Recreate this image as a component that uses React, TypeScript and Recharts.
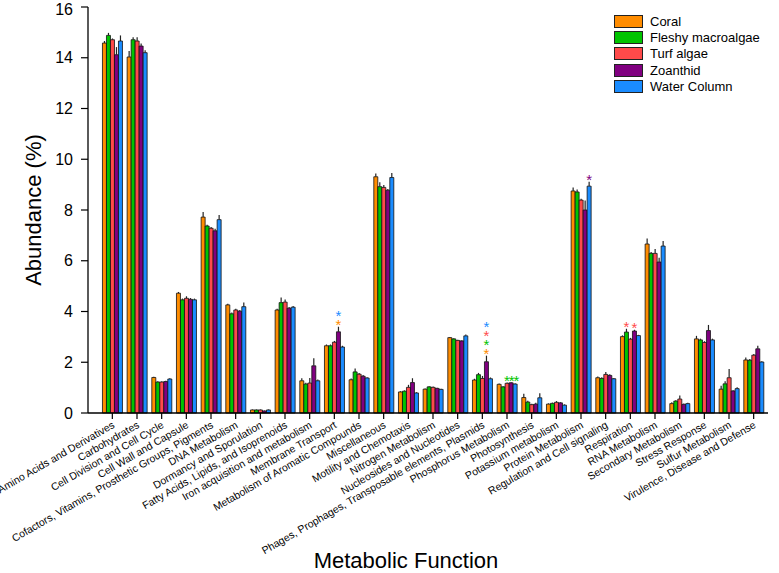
import React from 'react';
import { BarChart, Bar, XAxis, YAxis, ErrorBar, Legend, LabelList } from 'recharts';

const CATEGORIES = [
  'Amino Acids and Derivatives',
  'Carbohydrates',
  'Cell Division and Cell Cycle',
  'Cell Wall and Capsule',
  'Cofactors, Vitamins, Prosthetic Groups, Pigments',
  'DNA Metabolism',
  'Dormancy and Sporulation',
  'Fatty Acids, Lipids, and Isoprenoids',
  'Iron acquisition and metabolism',
  'Membrane Transport',
  'Metabolism of Aromatic Compounds',
  'Miscellaneous',
  'Motility and Chemotaxis',
  'Nitrogen Metabolism',
  'Nucleosides and Nucleotides',
  'Phages, Prophages, Transposable elements, Plasmids',
  'Phosphorus Metabolism',
  'Photosynthesis',
  'Potassium metabolism',
  'Protein Metabolism',
  'Regulation and Cell signaling',
  'Respiration',
  'RNA Metabolism',
  'Secondary Metabolism',
  'Stress Response',
  'Sulfur Metabolism',
  'Virulence, Disease and Defense',
];

const SERIES = ['Coral', 'Fleshy macroalgae', 'Turf algae', 'Zoanthid', 'Water Column'];
const COLORS = ['#FF8C00', '#00C400', '#FF4A4A', '#800080', '#1A8CFF'];

// mean abundance (%)
const coral = [14.58, 14.03, 1.4, 4.72, 7.72, 4.26, 0.12, 4.06, 1.27, 2.65, 1.31, 9.31, 0.83, 0.94, 2.97, 1.3, 1.13, 0.61, 0.35, 8.75, 1.39, 3.01, 6.66, 0.37, 2.92, 0.94, 2.09];
const fleshy = [14.88, 14.71, 1.22, 4.46, 7.37, 3.91, 0.12, 4.35, 1.14, 2.65, 1.62, 8.92, 0.86, 1.03, 2.92, 1.51, 1.03, 0.43, 0.38, 8.71, 1.36, 3.19, 6.29, 0.47, 2.88, 1.15, 2.08];
const turf = [14.71, 14.66, 1.22, 4.52, 7.28, 4.06, 0.12, 4.37, 1.18, 2.79, 1.53, 8.89, 1.01, 1.01, 2.86, 1.36, 1.17, 0.33, 0.42, 8.39, 1.52, 2.91, 6.29, 0.55, 2.78, 1.39, 2.28];
const zoanthid = [14.12, 14.46, 1.24, 4.48, 7.18, 4.01, 0.08, 4.13, 1.86, 3.2, 1.45, 8.78, 1.2, 0.97, 2.84, 2.02, 1.19, 0.35, 0.4, 8.0, 1.48, 3.23, 5.95, 0.34, 3.25, 0.87, 2.53];
const water = [14.66, 14.2, 1.34, 4.46, 7.62, 4.19, 0.12, 4.17, 1.27, 2.6, 1.38, 9.28, 0.79, 0.93, 3.04, 1.35, 1.14, 0.6, 0.31, 8.94, 1.35, 3.05, 6.58, 0.37, 2.88, 0.96, 2.01];

// upper error (SE)
const coralErr = [0.08, 0.24, 0.03, 0.05, 0.2, 0.05, 0.02, 0.05, 0.1, 0.05, 0.05, 0.13, 0.03, 0.03, 0.03, 0.05, 0.03, 0.15, 0.03, 0.14, 0.05, 0.05, 0.22, 0.05, 0.12, 0.13, 0.1];
const fleshyErr = [0.1, 0.1, 0.03, 0.05, 0.05, 0.05, 0.02, 0.2, 0.05, 0.05, 0.13, 0.17, 0.03, 0.03, 0.03, 0.07, 0.03, 0.05, 0.03, 0.1, 0.05, 0.13, 0.05, 0.03, 0.05, 0.1, 0.05];
const turfErr = [0.05, 0.15, 0.03, 0.08, 0.05, 0.05, 0.02, 0.1, 0.2, 0.05, 0.05, 0.1, 0.1, 0.03, 0.03, 0.1, 0.03, 0.03, 0.05, 0.05, 0.1, 0.05, 0.17, 0.14, 0.05, 0.34, 0.05];
const zoanthidErr = [0.3, 0.1, 0.03, 0.05, 0.08, 0.05, 0.02, 0.05, 0.3, 0.2, 0.05, 0.05, 0.17, 0.03, 0.03, 0.24, 0.03, 0.05, 0.03, 0.37, 0.05, 0.05, 0.17, 0.03, 0.22, 0.03, 0.12];
const waterErr = [0.22, 0.1, 0.03, 0.05, 0.18, 0.16, 0.02, 0.05, 0.05, 0.05, 0.03, 0.18, 0.03, 0.03, 0.05, 0.05, 0.03, 0.18, 0.03, 0.17, 0.03, 0.03, 0.2, 0.03, 0.05, 0.05, 0.03];

const Y_TICKS = [0, 2, 4, 6, 8, 10, 12, 14, 16];

// significance marks: which bar they sit over, and the colour of each star from the bottom up
const STARS = [
  { category: 'Membrane Transport', over: 'Zoanthid', text: '*', colors: ['Coral', 'Water Column'] },
  { category: 'Phages, Prophages, Transposable elements, Plasmids', over: 'Zoanthid', text: '*', colors: ['Coral', 'Fleshy macroalgae', 'Turf algae', 'Water Column'] },
  { category: 'Phosphorus Metabolism', over: 'Zoanthid', text: '***', colors: ['Fleshy macroalgae'] },
  { category: 'Protein Metabolism', over: 'Water Column', text: '*', colors: ['Zoanthid'] },
  { category: 'Respiration', over: 'Fleshy macroalgae', text: '*', colors: ['Turf algae'] },
  { category: 'Respiration', over: 'Zoanthid', text: '*', colors: ['Turf algae'] },
];

const values = [coral, fleshy, turf, zoanthid, water];
const errors = [coralErr, fleshyErr, turfErr, zoanthidErr, waterErr];

const data = CATEGORIES.map((name, i) => {
  const row: Record<string, any> = { name };
  values.forEach((v, k) => {
    row[`v${k}`] = v[i];
    row[`e${k}`] = [0, errors[k][i]];
  });
  return row;
});

const FONT = '"Liberation Sans", Arial, sans-serif';

const AngledTick = (props: any) => {
  const { x, y, payload } = props;
  return (
    <g transform={`translate(${x + 3},${y + 6})`}>
      <text
        x={0}
        y={0}
        transform="rotate(-30)"
        textAnchor="end"
        fontSize={10.5}
        fontFamily={FONT}
        fill="#000"
      >
        {payload.value}
      </text>
    </g>
  );
};

const renderStars = (props: any, seriesIndex: number) => {
  const idx = props.index;
  const cat = CATEGORIES[idx];
  const marks = STARS.filter((m) => m.category === cat && m.over === SERIES[seriesIndex]);
  if (!marks.length) return null;
  const vb = props.viewBox && props.viewBox.width != null ? props.viewBox : props;
  const { x, y, width, height } = vb;
  const value = values[seriesIndex][idx];
  const pxPerUnit = height / value;
  const errTop = y - errors[seriesIndex][idx] * pxPerUnit;
  return (
    <g>
      {marks.map((m, mi) =>
        m.colors.map((c, j) => (
          <text
            key={`${mi}-${j}`}
            x={x + width / 2}
            y={errTop - 5 - j * 9 + 8.6}
            textAnchor="middle"
            fontSize={15}
            fontFamily={FONT}
            letterSpacing={m.text.length > 1 ? -1 : 0}
            fill={COLORS[SERIES.indexOf(c)]}
          >
            {m.text}
          </text>
        ))
      )}
    </g>
  );
};

// legend drawn in series order
const LegendBox = () => (
  <div style={{ fontFamily: FONT }}>
    {SERIES.map((s, k) => (
      <div key={s} style={{ display: 'flex', alignItems: 'center', height: 16.3 }}>
        <span
          style={{
            display: 'inline-block',
            width: 29,
            height: 13,
            background: COLORS[k],
            border: '1.3px solid #222',
            boxSizing: 'border-box',
          }}
        />
        <span style={{ marginLeft: 7, fontSize: 13, color: '#000' }}>{s}</span>
      </div>
    ))}
  </div>
);

export default function App() {
  return (
    <div style={{ position: 'absolute', left: 0, top: 0, background: '#fff' }}>
      <BarChart
        width={779}
        height={573}
        data={data}
        margin={{ top: 7, right: 11, bottom: 0, left: 0 }}
        barCategoryGap="10%"
        barGap={0}
      >
        <XAxis
          dataKey="name"
          interval={0}
          height={160}
          padding={{ left: 12, right: 2 }}
          tick={<AngledTick />}
          tickSize={6}
          tickMargin={2}
          axisLine={{ stroke: '#000', strokeWidth: 1.3 }}
          tickLine={{ stroke: '#000', strokeWidth: 1.2 }}
          label={{
            value: 'Metabolic Function',
            position: 'insideBottom',
            offset: 5,
            dx: -22,
            style: { fontSize: 22, fill: '#000', fontFamily: FONT },
          }}
        />
        <YAxis
          domain={[0, 16]}
          ticks={Y_TICKS}
          width={88}
          tickSize={7}
          tickMargin={8}
          axisLine={{ stroke: '#000', strokeWidth: 1.3 }}
          tickLine={{ stroke: '#000', strokeWidth: 1.2 }}
          tick={{ fontSize: 16, fill: '#000', fontFamily: FONT }}
          label={{
            value: 'Abundance (%)',
            angle: -90,
            position: 'insideLeft',
            offset: 33,
            style: { textAnchor: 'middle', fontSize: 22, fill: '#000', fontFamily: FONT },
          }}
        />
        <Legend
          layout="vertical"
          align="center"
          verticalAlign="middle"
          content={<LegendBox />}
          wrapperStyle={{ top: 13, left: 614, width: 165 }}
        />
        {SERIES.map((s, k) => (
          <Bar
            key={s}
            dataKey={`v${k}`}
            name={s}
            fill={COLORS[k]}
            stroke="#111"
            strokeWidth={0.8}
            isAnimationActive={false}
          >
            <ErrorBar dataKey={`e${k}`} width={0} stroke="#222" strokeWidth={1.2} direction="y" />
            <LabelList dataKey={`v${k}`} content={(p: any) => renderStars(p, k)} />
          </Bar>
        ))}
      </BarChart>
    </div>
  );
}
